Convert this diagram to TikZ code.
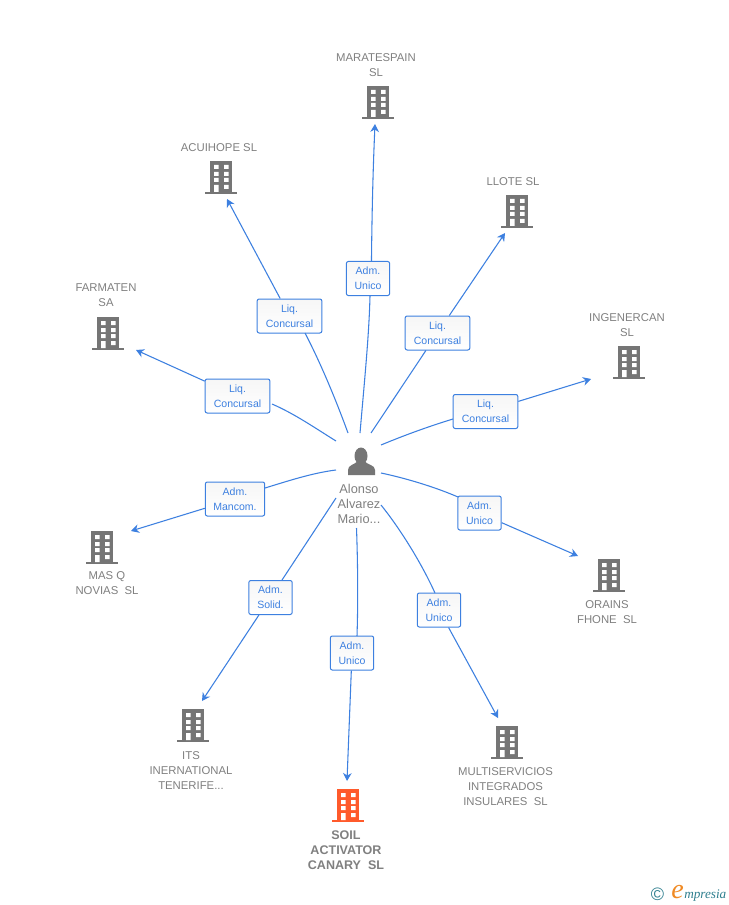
\documentclass[tikz,border=0pt]{standalone}
\usepackage{fontspec}
\setmainfont{Liberation Sans}
\newfontfamily\logofont{Liberation Serif}
\usetikzlibrary{arrows.meta,shadings}
\definecolor{linkblue}{HTML}{3D80E0}
\definecolor{greytext}{HTML}{808080}
\definecolor{bldgrey}{HTML}{757575}
\definecolor{bldorange}{HTML}{FF5A2B}
\definecolor{logoteal}{HTML}{2F7F8F}
\definecolor{logoorange}{HTML}{F08A24}
\tikzset{
  link/.style={draw=linkblue,line width=0.8pt},
  linkarrow/.style={link,-{Stealth[length=6pt,width=6.5pt]}},
  rolebox/.style={draw=linkblue,line width=0.75pt,rounded corners=1.5pt,top color=gray!7,bottom color=white,
    text=linkblue,font=\fontsize{7.9}{11.2}\selectfont,align=center,inner sep=0pt,minimum height=25.5pt},
  liqbox/.style={rolebox,minimum width=48.5pt},
  admbox/.style={rolebox,minimum width=32.5pt},
  coname/.style={text=greytext,font=\fontsize{8.5}{11.2}\selectfont,align=center,inner sep=0pt},
  pics/building/.style={code={
    \fill[#1] (-11,-16) rectangle (11,15);
    \fill[#1] (-16,15) rectangle (16,17);
    \fill[white] (-7,-12) rectangle (-2.5,-8) (3,-12) rectangle (7.5,-8)
                 (-7,-5) rectangle (-2.5,-1) (3,-5) rectangle (7.5,-1)
                 (-7,1) rectangle (-2.5,5) (3,1) rectangle (7.5,5)
                 (-7,8) rectangle (-2.5,15) (3,8) rectangle (7.5,12);
  }}
}
\begin{document}
\begin{tikzpicture}[x=0.75pt,y=-0.75pt]
\useasboundingbox (0,0) rectangle (728,905);
\fill[white] (0,0) rectangle (728,905);

% buildings
\pic at (378,102) {building=bldgrey};
\pic at (221,177) {building=bldgrey};
\pic at (517,211) {building=bldgrey};
\pic at (108,333) {building=bldgrey};
\pic at (629,362) {building=bldgrey};
\pic at (102,547) {building=bldgrey};
\pic at (609,575) {building=bldgrey};
\pic at (193,725) {building=bldgrey};
\pic at (348,805) {building=bldorange};
\pic at (507,742) {building=bldgrey};

% company names
\node[coname] (nMar) at (376,65) {MARATESPAIN\\SL};
\node[coname] (nAcu) at (219,147.5) {ACUIHOPE SL};
\node[coname] (nLlo) at (513,181.5) {LLOTE SL};
\node[coname] (nFar) at (106,295) {FARMATEN\\SA};
\node[coname] (nIng) at (627,325) {INGENERCAN\\SL};
\node[coname] (nMas) at (107,583.5) {MAS Q\\NOVIAS\ \ SL};
\node[coname] (nOra) at (607,612.5) {ORAINS\\FHONE\ \ SL};
\node[coname] (nIts) at (191,770.5) {ITS\\INERNATIONAL\\TENERIFE...};
\node[coname,font=\fontsize{9.4}{11.2}\selectfont\bfseries] (nSoi) at (346,850) {SOIL\\ACTIVATOR\\CANARY\ \ SL};
\node[coname] (nMul) at (505.5,787) {MULTISERVICIOS\\INTEGRADOS\\INSULARES\ \ SL};

% person
\fill[bldgrey] (361,456) ellipse (6.5 and 8.5);
\fill[bldgrey] (348,475) -- (348,470) .. controls (348,465) and (354,465) .. (358,461)
  -- (364,461) .. controls (368,465) and (375,465) .. (375,470) -- (375,475) -- cycle;
\node[text=greytext,font=\fontsize{9.6}{11.3}\selectfont,align=center,inner sep=0pt] (person) at (359,504) {Alonso\\Alvarez\\Mario...};

% role boxes
\node[liqbox] (bAcu) at (289.5,316) {Liq.\\Concursal};
\node[admbox] (bMar) at (368,278.5) {Adm.\\Unico};
\node[liqbox] (bLlo) at (437.5,333) {Liq.\\Concursal};
\node[liqbox] (bFar) at (237.5,396) {Liq.\\Concursal};
\node[liqbox] (bIng) at (485.5,411.5) {Liq.\\Concursal};
\node[rolebox,minimum width=44.5pt] (bMas) at (235,499) {Adm.\\Mancom.};
\node[admbox] (bOra) at (479.5,513) {Adm.\\Unico};
\node[admbox] (bIts) at (270.5,597.5) {Adm.\\Solid.};
\node[admbox] (bSoi) at (352,653) {Adm.\\Unico};
\node[admbox] (bMul) at (439,610) {Adm.\\Unico};

% connector ends
\coordinate (sMar) at (360,433); \coordinate (tMar) at (375,124);
\coordinate (sAcu) at (348,433); \coordinate (tAcu) at (227,199);
\coordinate (sLlo) at (371,433); \coordinate (tLlo) at (505,233);
\coordinate (sFar) at (336,441); \coordinate (tFar) at (136,350);
\coordinate (sIng) at (381,445); \coordinate (tIng) at (591,379);
\coordinate (sMas) at (336,470); \coordinate (tMas) at (131,531);
\coordinate (sOra) at (381,473); \coordinate (tOra) at (578,556);
\coordinate (sIts) at (336,498); \coordinate (tIts) at (202,701);
\coordinate (sSoi) at (356.5,528); \coordinate (tSoi) at (347,781);
\coordinate (sMul) at (381,505); \coordinate (tMul) at (498,718);

% connectors
\draw[link] (sMar) .. controls (365,375) and (369,335) .. ([xshift=1.5pt]bMar.south);
\draw[linkarrow] ([xshift=2.6pt]bMar.north) .. controls (372,210) and (373,170) .. (tMar);
\draw[link] (sAcu) .. controls (333,392) and (318,358) .. (305,333);
\draw[linkarrow] (bAcu) -- (tAcu);
\draw[link] (sLlo) -- (bLlo);
\draw[linkarrow] (bLlo) -- (tLlo);
\draw[link] (sFar) .. controls (315,428) and (295,414) .. (272,404);
\draw[linkarrow] (bFar) -- (tFar);
\draw[link] (sIng) .. controls (405,435) and (430,426) .. (453,419);
\draw[linkarrow] (bIng) -- (tIng);
\draw[link] (sMas) .. controls (312,473) and (288,481) .. (265,488);
\draw[linkarrow] (bMas) -- (tMas);
\draw[link] (sOra) .. controls (405,478) and (435,487) .. (458,497);
\draw[linkarrow] (bOra) -- (tOra);
\draw[link] (sIts) -- (bIts);
\draw[linkarrow] (bIts) -- (tIts);
\draw[link] (sSoi) .. controls (358,570) and (358,605) .. (357,636);
\draw[linkarrow] (bSoi) -- (tSoi);
\draw[link] (sMul) .. controls (398,526) and (420,560) .. (435,593);
\draw[linkarrow] (bMul) -- (tMul);

% logo
\node[text=logoteal,inner sep=0pt,font=\fontsize{13.5}{14}\selectfont] (copy) at (657.5,894) {©};
\node[text=logoorange,inner sep=0pt,font=\logofont\itshape\fontsize{21}{21}\selectfont] (logoe) at (677.5,892) {e};
\node[text=logoteal,inner sep=0pt,anchor=base west,font=\logofont\itshape\fontsize{9.9}{12}\selectfont] (logot) at (684,898) {mpresia};
\end{tikzpicture}
\end{document}
